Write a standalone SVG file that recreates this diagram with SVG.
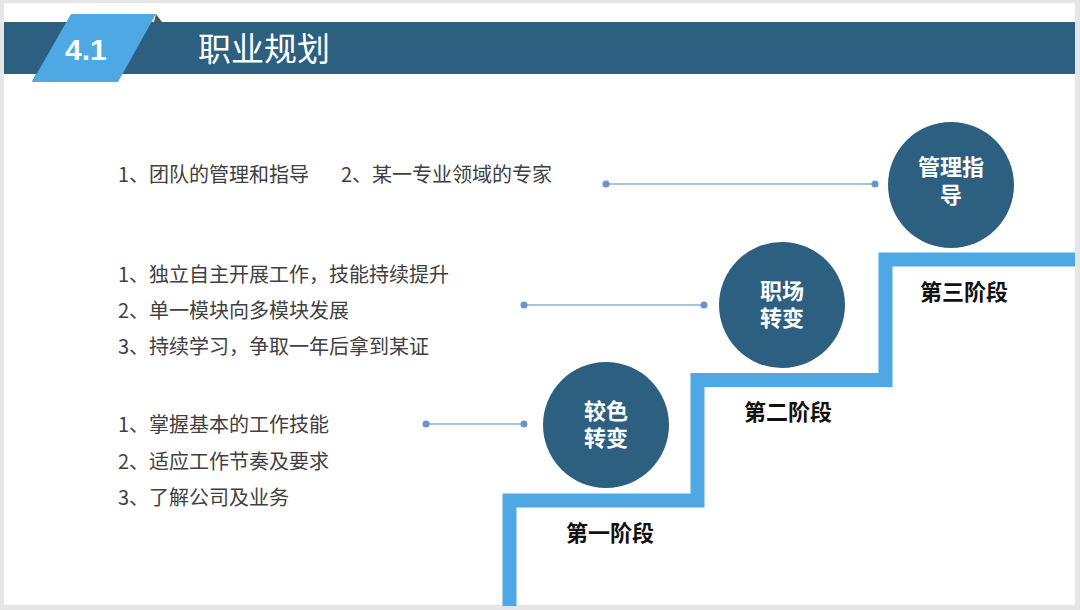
<svg xmlns="http://www.w3.org/2000/svg" width="1080" height="610" viewBox="0 0 1080 610">
<style>
.body{font-family:"Noto Sans CJK SC","Liberation Sans",sans-serif;font-size:20px;fill:#404040}
.node-t{font-family:"Noto Sans CJK SC","Liberation Sans",sans-serif;font-size:22px;font-weight:bold;fill:#ffffff;text-anchor:middle}
.stage{font-family:"Noto Sans CJK SC","Liberation Sans",sans-serif;font-size:22px;font-weight:bold;fill:#111111}
.node{fill:#2D5F81}
.conn line{stroke:#A9C3E2;stroke-width:2}
.conn circle{fill:#6893CC}
</style>
<rect x="0" y="0" width="1080" height="610" fill="#E6E6E6"/>
<rect x="4" y="3" width="1071" height="602" fill="#FFFFFF"/>
<g id="header">
<rect x="4" y="22" width="1071" height="52" fill="#2D5F81"/>
<polygon points="156,14 162,22 154,22" fill="#555555"/>
<polygon points="32,82 36,74 40,74" fill="#555555"/>
<polygon points="71,14 156,14 118,82 32,82" fill="#4EA8E4"/>
<text x="65" y="60" font-family="'Liberation Sans',sans-serif" font-size="30" font-weight="bold" fill="#ffffff">4.1</text>
<text x="198" y="61" font-family="'Noto Sans CJK SC',sans-serif" font-size="33" fill="#ffffff">职业规划</text>
</g>
<g id="stairs">
<path d="M509.5,606 V500.5 H697.5 V380 H885.5 V259.5 H1075" fill="none" stroke="#4EA8E4" stroke-width="14" stroke-linejoin="miter"/>
</g>
<g class="conn" id="connectors">
<line x1="606" y1="184" x2="875" y2="184"/><circle cx="606" cy="184" r="3.5"/><circle cx="875" cy="184" r="3.5"/>
<line x1="524" y1="305" x2="704" y2="305"/><circle cx="524" cy="305" r="3.5"/><circle cx="704" cy="305" r="3.5"/>
<line x1="426" y1="424" x2="524" y2="424"/><circle cx="426" cy="424" r="3.5"/><circle cx="524" cy="424" r="3.5"/>
</g>
<g id="node1">
<circle class="node" cx="606" cy="425" r="63"/>
<text class="node-t" x="606" y="419">较色</text>
<text class="node-t" x="606" y="446">转变</text>
</g>
<g id="node2">
<circle class="node" cx="782" cy="305" r="63"/>
<text class="node-t" x="782" y="299">职场</text>
<text class="node-t" x="782" y="326">转变</text>
</g>
<g id="node3">
<circle class="node" cx="951" cy="185" r="63"/>
<text class="node-t" x="951" y="175">管理指</text>
<text class="node-t" x="951" y="203">导</text>
</g>
<g id="stages">
<text class="stage" x="566" y="541">第一阶段</text>
<text class="stage" x="744" y="420">第二阶段</text>
<text class="stage" x="920" y="300">第三阶段</text>
</g>
<g id="texts">
<text class="body" x="118" y="182">1、团队的管理和指导</text>
<text class="body" x="341" y="182">2、某一专业领域的专家</text>
<text class="body" x="118" y="282">1、独立自主开展工作，技能持续提升</text>
<text class="body" x="118" y="318">2、单一模块向多模块发展</text>
<text class="body" x="118" y="354">3、持续学习，争取一年后拿到某证</text>
<text class="body" x="118" y="432">1、掌握基本的工作技能</text>
<text class="body" x="118" y="469">2、适应工作节奏及要求</text>
<text class="body" x="118" y="505">3、了解公司及业务</text>
</g>
</svg>
